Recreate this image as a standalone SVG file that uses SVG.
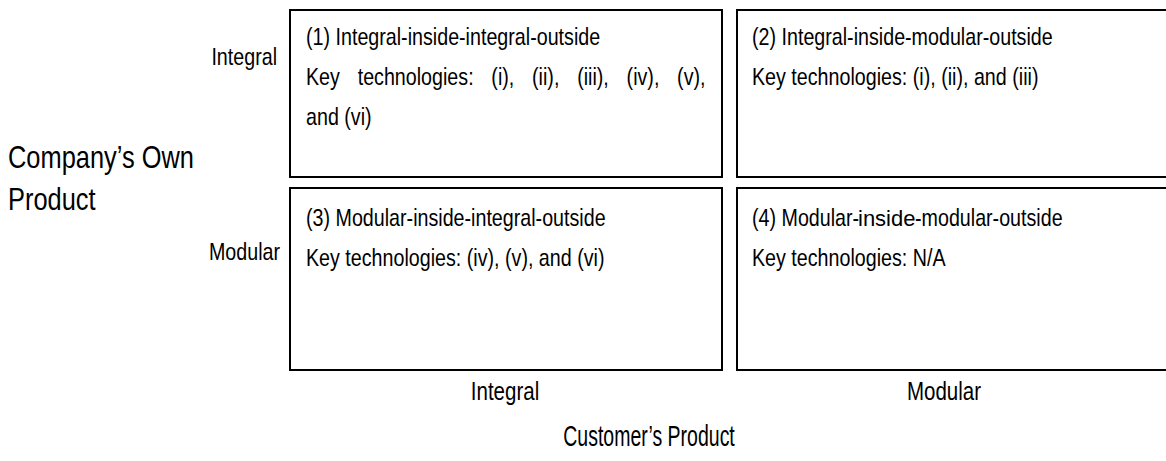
<svg xmlns="http://www.w3.org/2000/svg" width="1166" height="461" viewBox="0 0 1166 461">
  <style>
    /* condensed sans: Liberation Sans squeezed horizontally */
    .t { font-family: "Liberation Sans", Arial, sans-serif; fill: #000; font-size: 24px; }
    .box { fill: #fff; stroke: #000; stroke-width: 2; }
    .ax { font-size: 25px; }
    .title { font-size: 31px; }
    .sub { font-size: 30px; }
    .wide { font-size: 22px; }
  </style>
  <rect width="1166" height="461" fill="#fff"/>

  <!-- axis labels -->
  <g id="axis-labels">
    <text class="t" transform="translate(277 65) scale(0.82 1)" text-anchor="end">Integral</text>
    <text class="t" transform="translate(280 260) scale(0.82 1)" text-anchor="end">Modular</text>
    <text class="t title" transform="translate(8 168) scale(0.82 1)">Company’s Own</text>
    <text class="t title" transform="translate(8 210) scale(0.82 1)">Product</text>
    <text class="t ax" transform="translate(505 400) scale(0.82 1)" text-anchor="middle">Integral</text>
    <text class="t ax" transform="translate(944 400) scale(0.82 1)" text-anchor="middle">Modular</text>
    <text class="t sub" transform="translate(649 446) scale(0.65 1)" text-anchor="middle">Customer’s Product</text>
  </g>

  <!-- quadrant 1 -->
  <g id="q1">
    <rect class="box" x="290" y="10" width="432" height="167"/>
    <text class="t" transform="translate(306 45) scale(0.82 1)">(1) Integral-inside-integral-outside</text>
    <text class="t" transform="translate(306 85) scale(0.82 1)" word-spacing="15">Key technologies: (i), (ii), (iii), (iv), (v),</text>
    <text class="t" transform="translate(306 125) scale(0.82 1)">and (vi)</text>
  </g>

  <!-- quadrant 2 -->
  <g id="q2">
    <rect class="box" x="737" y="10" width="440" height="167"/>
    <text class="t" transform="translate(752 45) scale(0.82 1)">(2) Integral-inside-modular-outside</text>
    <text class="t" transform="translate(752 85) scale(0.82 1)">Key technologies: (i), (ii), and (iii)</text>
  </g>

  <!-- quadrant 3 -->
  <g id="q3">
    <rect class="box" x="290" y="188" width="432" height="182"/>
    <text class="t" transform="translate(306 226) scale(0.82 1)">(3) Modular-inside-integral-outside</text>
    <text class="t" transform="translate(306 266) scale(0.82 1)">Key technologies: (iv), (v), and (vi)</text>
  </g>

  <!-- quadrant 4: the word "inside" is set in the regular-width face -->
  <g id="q4">
    <rect class="box" x="737" y="188" width="440" height="182"/>
    <text class="t" transform="translate(752 226) scale(0.82 1)">(4) Modular-</text>
    <text class="t wide" x="858" y="226">inside</text>
    <text class="t" transform="translate(915 226) scale(0.82 1)">-modular-outside</text>
    <text class="t" transform="translate(752 266) scale(0.82 1)">Key technologies: N/A</text>
  </g>

  <g id="connectors"/>
</svg>
